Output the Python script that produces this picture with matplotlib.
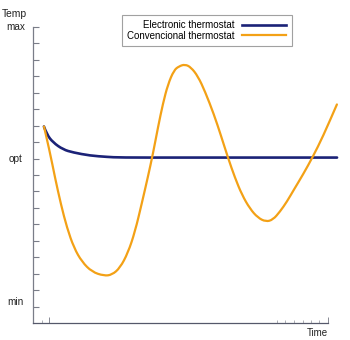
import matplotlib
matplotlib.use("Agg")
import matplotlib.pyplot as plt
from matplotlib.lines import Line2D
from matplotlib.path import Path
from matplotlib.patches import PathPatch

plt.rcParams.update({
    "font.family": ["Liberation Sans", "DejaVu Sans"],
    "font.size": 7,
})

# ── Data (time in 0..100, temperature scale 0..18) ───────────────────────────
electronic_t = [3.7, 4.7, 6.8, 10.2, 13.6, 19.3, 25.1, 29.5, 50.0, 80.0, 103.1]
electronic_temp = [11.95, 11.46, 10.98, 10.55, 10.37, 10.18, 10.10, 10.06, 10.06, 10.06, 10.06]

conventional_t = [3.73, 5.76, 7.46, 9.49, 11.53, 13.90, 16.61, 20.00, 24.07, 26.78,
                  29.49, 32.20, 34.58, 36.95, 38.98, 40.68, 42.37, 44.07, 45.76, 47.80,
                  49.49, 51.53, 53.56, 55.93, 58.31, 61.36, 63.73, 66.10, 68.47, 70.85,
                  73.56, 76.27, 78.98, 81.36, 83.73, 86.10, 88.47, 91.53, 94.92, 98.31,
                  103.05]
conventional_temp = [11.95, 10.37, 8.84, 7.20, 5.79, 4.57, 3.72, 3.11, 2.87, 2.93,
                     3.35, 4.27, 5.55, 7.32, 8.90, 10.30, 11.89, 13.35, 14.51, 15.37,
                     15.61, 15.73, 15.55, 15.00, 14.09, 12.68, 11.40, 10.06, 8.84, 7.80,
                     6.95, 6.40, 6.16, 6.28, 6.77, 7.38, 8.11, 9.02, 10.12, 11.34,
                     13.29]

y_ticks = list(range(1, 19))
x_major_ticks = [5.4, 100]
x_minor_ticks = [3.0, 82.7, 85.6, 88.5, 91.4, 94.2, 97.1]

axis_labels = {"max": 18.0, "opt": 10.0, "min": 1.3}

BLUE = "#1b2277"
ORANGE = "#f3a116"
AXIS_GREY = "#7a7d88"


def smooth_curve(ax, xs, ys, **kw):
    """Draw a quadratic B-spline style path through the points (hand-drawn look)."""
    pts = list(zip(xs, ys))
    verts = [pts[0]]
    codes = [Path.MOVETO]
    for i in range(1, len(pts) - 1):
        mid = ((pts[i][0] + pts[i + 1][0]) / 2, (pts[i][1] + pts[i + 1][1]) / 2)
        verts += [pts[i], mid]
        codes += [Path.CURVE3, Path.CURVE3]
    verts.append(pts[-1])
    codes.append(Path.LINETO)
    patch = PathPatch(Path(verts, codes), fill=False, transform=ax.transData,
                      capstyle="round", joinstyle="round", clip_on=False, **kw)
    ax.add_patch(patch)
    return patch


fig = plt.figure(figsize=(3.5, 3.4), dpi=100)
ax = fig.add_axes([33 / 350, 17 / 340, 307 / 350, 296 / 340])
ax.set_xlim(0, 104.1)
ax.set_ylim(0, 18)

smooth_curve(ax, electronic_t, electronic_temp, edgecolor=BLUE, lw=1.9, zorder=3)
smooth_curve(ax, conventional_t, conventional_temp, edgecolor=ORANGE, lw=1.6, zorder=4)

# ── Axes styling ──────────────────────────────────────────────────────────────
for side in ("top", "right"):
    ax.spines[side].set_visible(False)
ax.spines["left"].set_color(AXIS_GREY)
ax.spines["bottom"].set_color("#55586a")
ax.spines["left"].set_linewidth(0.9)
ax.spines["bottom"].set_linewidth(0.9)
ax.spines["bottom"].set_bounds(0, 100)

ax.set_yticks(y_ticks)
ax.set_yticklabels([])
ax.tick_params(axis="y", direction="in", length=4, width=0.8, color=AXIS_GREY)

ax.set_xticks(x_major_ticks)
ax.set_xticks(x_minor_ticks, minor=True)
ax.set_xticklabels([])
ax.tick_params(axis="x", which="major", direction="in", length=4.5, width=0.7, color="#888a94")
ax.tick_params(axis="x", which="minor", direction="in", length=2.5, width=0.6, color="#a0a2aa")

for name, yv in axis_labels.items():
    ax.text(-5.8, yv, name, ha="center", va="center", fontsize=7.2, color="#222222",
            clip_on=False)
ax.text(-6.3, 18.8, "Temp", ha="center", va="center", fontsize=7.4, color="#222222",
        clip_on=False)
ax.text(100, -0.6, "Time", ha="right", va="center", fontsize=7, color="#222222",
        clip_on=False)

# ── Legend (labels left, line samples right) ─────────────────────────────────
handles = [Line2D([], [], color=BLUE, lw=1.9), Line2D([], [], color=ORANGE, lw=1.6)]
leg = fig.legend(handles, ["Electronic thermostat", "Convencional thermostat"],
                 loc="upper left", bbox_to_anchor=(122 / 350, 1 - 15 / 340),
                 markerfirst=False, fancybox=False, frameon=True, fontsize=7,
                 handlelength=4.6, handletextpad=0.7, labelspacing=0.05,
                 borderpad=0.55, borderaxespad=0)
leg.get_frame().set_edgecolor("#8a8a8a")
leg.get_frame().set_linewidth(0.8)

fig.savefig("out.png", dpi=100)
